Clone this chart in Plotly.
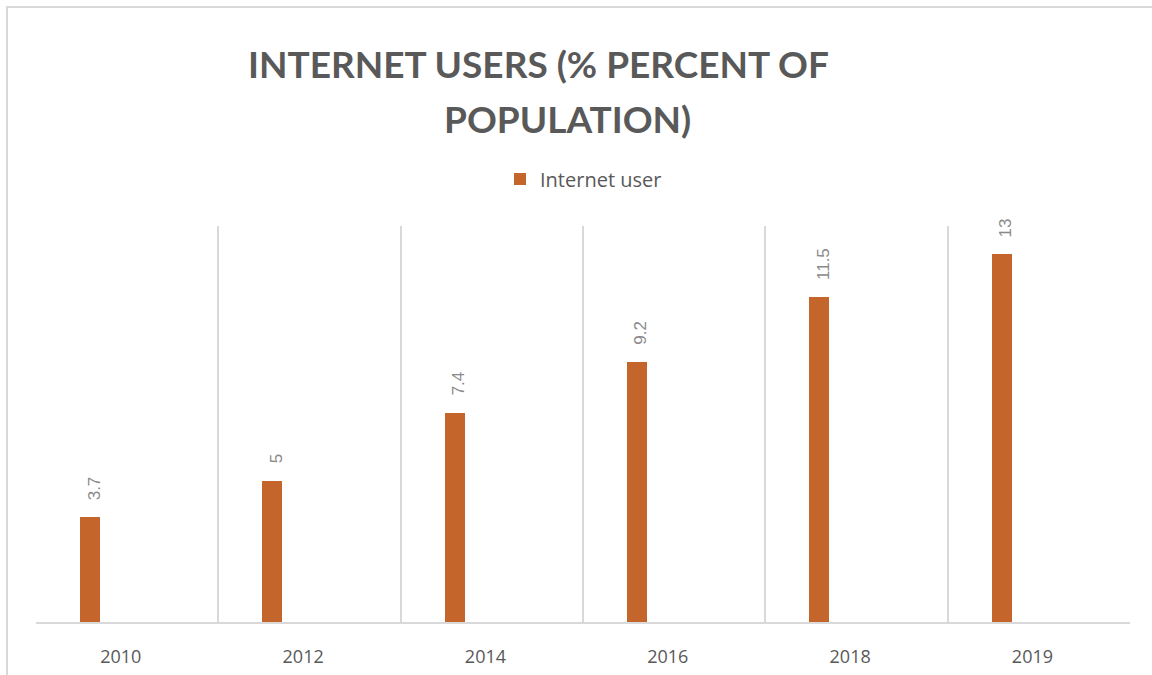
import plotly.graph_objects as go

# ---- data ----
years = ["2010", "2012", "2014", "2016", "2018", "2019"]
internet_users = [3.7, 5, 7.4, 9.2, 11.5, 13]
series_name = "Internet user"
title_line1 = "INTERNET USERS (% PERCENT OF"
title_line2 = "POPULATION)"

W, H = 1152, 675
L, R, T, B = 36, 22, 226, 53
plot_w = W - L - R
plot_h = H - T - B


def px_x(px):
    return (px - L) / plot_w


def px_y(py):
    return (H - B - py) / plot_h


idx = list(range(len(years)))
bar_offset = -0.259
bar_width = 0.11

fig = go.Figure()
fig.add_trace(go.Bar(
    x=idx, y=internet_users, name=series_name,
    offset=bar_offset, width=bar_width,
    marker=dict(color="#C4662B", line=dict(width=0)),
    showlegend=True,
))

annotations = []
for i, v in zip(idx, internet_users):
    annotations.append(dict(
        x=i + bar_offset + bar_width / 2, y=v, xref="x", yref="y",
        text=f"{v:g}", showarrow=False, textangle=-90,
        xanchor="center", yanchor="bottom", xshift=4, yshift=15,
        font=dict(family="Liberation Sans", size=17, color="#8a8a8a"),
    ))

annotations.append(dict(
    x=px_x(538), y=px_y(64), xref="paper", yref="paper",
    text=f"<b>{title_line1}</b>", showarrow=False,
    xanchor="center", yanchor="middle",
    font=dict(family="Lato", size=37, color="#595959"),
))
annotations.append(dict(
    x=px_x(567), y=px_y(118), xref="paper", yref="paper",
    text=f"<b>{title_line2}</b>", showarrow=False,
    xanchor="center", yanchor="middle",
    font=dict(family="Lato", size=37, color="#595959"),
))

fig.update_layout(
    width=W, height=H,
    margin=dict(l=L, r=R, t=T, b=B, pad=0),
    paper_bgcolor="white", plot_bgcolor="white",
    annotations=annotations,
    showlegend=True,
    legend=dict(
        orientation="h", x=px_x(500), y=px_y(179),
        xanchor="left", yanchor="middle",
        font=dict(family="Open Sans", size=20, color="#595959"),
        bgcolor="rgba(0,0,0,0)",
    ),
    shapes=[dict(
        type="rect", xref="paper", yref="paper",
        x0=px_x(7), x1=px_x(1165), y0=px_y(7), y1=px_y(690),
        line=dict(color="#d9d9d9", width=2), fillcolor="rgba(0,0,0,0)",
        layer="below",
    )],
    bargap=0,
)

fig.update_xaxes(
    range=[-0.5, len(years) - 0.5],
    tickmode="array", tickvals=[i - 0.035 for i in idx], ticktext=years,
    showgrid=False, ticks="", zeroline=False,
    showline=True, linecolor="#d9d9d9", linewidth=2,
    tickfont=dict(family="Open Sans", size=18, color="#595959"),
    ticklabelstandoff=17, automargin=False,
    minor=dict(tick0=-0.5, dtick=1, showgrid=True, gridcolor="#d9d9d9", gridwidth=2, ticks=""),
    fixedrange=True,
)
fig.update_yaxes(
    range=[0, 14], showgrid=False, showticklabels=False, zeroline=False,
    showline=False, ticks="", fixedrange=True, automargin=False,
)

fig.write_html("out.html", config={"displayModeBar": False})
